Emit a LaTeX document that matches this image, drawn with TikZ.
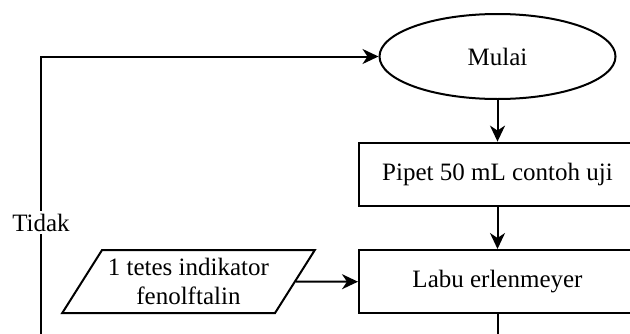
\documentclass[tikz,border=0pt]{standalone}
\usepackage{fontspec}
\setmainfont{Liberation Serif}
\usepackage{tikz}
\usetikzlibrary{shapes.geometric, arrows.meta, positioning}
\tikzset{
  awal/.style={ellipse, draw=black, fill=white, line width=1pt,
    minimum width=118pt, minimum height=42.5pt, align=center},
  proses/.style={rectangle, draw=black, fill=white, line width=1pt,
    minimum width=138.5pt, minimum height=31.7pt, align=center},
  masukan/.style={trapezium, trapezium left angle=57, trapezium right angle=123,
    trapezium stretches, draw=black, fill=white, line width=1pt,
    minimum width=126.5pt, minimum height=31.5pt, inner xsep=2pt, align=center},
  panah/.style={-{Stealth[length=8pt, width=7.5pt, inset=2.5pt]}, line width=1pt},
  ket/.style={fill=white, inner sep=1.5pt}
}

\begin{document}
\begin{tikzpicture}[node distance=21pt and 31pt, font=\fontsize{12.5}{14.5}\selectfont]
  \useasboundingbox (0,0) rectangle (315pt,166.5pt);
  \clip (0,0) rectangle (315pt,166.5pt);
  \node[awal] (mulai) at (248.75pt,138.25pt) {Mulai};
  \node[proses, below=20.8pt of mulai] (pipet) {Pipet 50 mL contoh uji};
  \node[proses, below=of pipet] (labu) {Labu erlenmeyer};
  \node[masukan, left=of labu] (indikator) {1 tetes indikator\\fenolftalin};
  \coordinate (balik) at (20.5pt,-10pt);
  \coordinate (lanjut) at (labu.south |- balik);
  \draw[panah] (mulai) -- (pipet);
  \draw[panah] (pipet) -- (labu);
  \draw[panah] (indikator) -- (labu);
  \draw[line width=1pt] (labu) -- (lanjut);
  \draw[panah] (balik) |- node[ket, pos=0.22]{Tidak} (mulai);
\end{tikzpicture}
\end{document}
